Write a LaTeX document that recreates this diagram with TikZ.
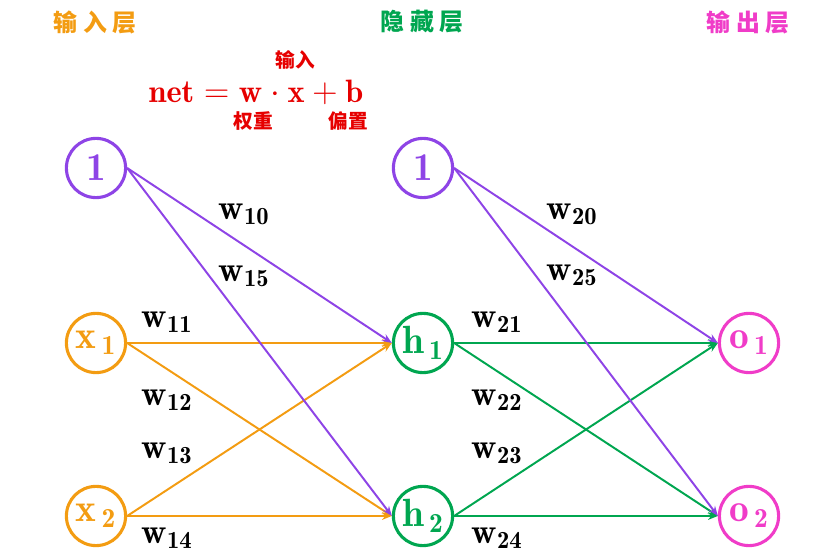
\documentclass[tikz,border=0pt]{standalone}
\usepackage{fontspec}
\newfontfamily\cjk{Noto Sans CJK SC}
\usetikzlibrary{arrows.meta}

\definecolor{inorange}{RGB}{243,156,18}
\definecolor{hidgreen}{RGB}{0,166,80}
\definecolor{biaspurple}{RGB}{142,68,230}
\definecolor{outpink}{RGB}{240,60,200}
\definecolor{formred}{RGB}{230,0,0}

\begin{document}
\begin{tikzpicture}[
    neuron/.style={circle, draw, line width=2.2pt, minimum size=1.48cm, inner sep=0pt,
                   font=\fontsize{28}{32}\selectfont},
    wlabel/.style={font=\fontsize{25}{30}\selectfont},
    layertitle/.style={font=\cjk\bfseries\fontsize{17}{20}\selectfont},
    formnote/.style={formred, font=\cjk\bfseries\fontsize{14}{17}\selectfont},
    link/.style={line width=1.4pt, -{Stealth[length=7pt,width=5.5pt]}}
  ]
   \useasboundingbox (0,0) rectangle (20.425,14);

%Layer titles
   \node[layertitle, inorange] at (2.375, 13.45)  (t1)  {输\hspace{0.25em}入\hspace{0.25em}层};
   \node[layertitle, hidgreen] at (10.55, 13.45)  (t2)  {隐\hspace{0.25em}藏\hspace{0.25em}层};
   \node[layertitle, outpink]  at (18.7, 13.45)   (t3)  {输\hspace{0.25em}出\hspace{0.25em}层};

%Formula
   \node[formred, font=\fontsize{23}{27}\selectfont] at (6.4, 11.7)  (net)
        {$\mathbf{net}=\mathbf{w}\cdot\mathbf{x}+\mathbf{b}$};
   \node[formnote] at (7.375, 12.5)   (fin)  {输入};
   \node[formnote] at (6.325, 10.975) (fw)   {权重};
   \node[formnote] at (8.7, 10.975)   (fb)   {偏置};

%Neurons
   \node[neuron, biaspurple] at (2.4, 9.8)     (b1)  {$\mathbf{1}$};
   \node[neuron, inorange]   at (2.4, 5.425)   (x1)  {$\mathbf{x}_{\,\mathbf{1}}$};
   \node[neuron, inorange]   at (2.4, 1.1)     (x2)  {$\mathbf{x}_{\,\mathbf{2}}$};

   \node[neuron, biaspurple] at (10.575, 9.8)   (b2)  {$\mathbf{1}$};
   \node[neuron, hidgreen]   at (10.575, 5.425) (h1)  {$\mathbf{h}_{\,\mathbf{1}}$};
   \node[neuron, hidgreen]   at (10.575, 1.1)   (h2)  {$\mathbf{h}_{\,\mathbf{2}}$};

   \node[neuron, outpink]    at (18.725, 5.425) (o1)  {$\mathbf{o}_{\,\mathbf{1}}$};
   \node[neuron, outpink]    at (18.725, 1.1)   (o2)  {$\mathbf{o}_{\,\mathbf{2}}$};

%Connections
   \draw [link, inorange]   (x1.east)to(h1.west);
   \draw [link, inorange]   (x1.east)to(h2.west);
   \draw [link, inorange]   (x2.east)to(h1.west);
   \draw [link, inorange]   (x2.east)to(h2.west);
   \draw [link, biaspurple] (b1.east)to(h1.west);
   \draw [link, biaspurple] (b1.east)to(h2.west);

   \draw [link, hidgreen]   (h1.east)to(o1.west);
   \draw [link, hidgreen]   (h1.east)to(o2.west);
   \draw [link, hidgreen]   (h2.east)to(o1.west);
   \draw [link, hidgreen]   (h2.east)to(o2.west);
   \draw [link, biaspurple] (b2.east)to(o1.west);
   \draw [link, biaspurple] (b2.east)to(o2.west);

%Weight labels
   \node[wlabel] at (6.1, 8.65)    (w10)  {$\mathbf{w_{10}}$};
   \node[wlabel] at (6.1, 7.1)     (w15)  {$\mathbf{w_{15}}$};
   \node[wlabel] at (4.175, 5.95)  (w11)  {$\mathbf{w_{11}}$};
   \node[wlabel] at (4.175, 4.0)   (w12)  {$\mathbf{w_{12}}$};
   \node[wlabel] at (4.175, 2.675) (w13)  {$\mathbf{w_{13}}$};
   \node[wlabel] at (4.175, 0.55)  (w14)  {$\mathbf{w_{14}}$};

   \node[wlabel] at (14.3, 8.65)    (w20)  {$\mathbf{w_{20}}$};
   \node[wlabel] at (14.3, 7.125)   (w25)  {$\mathbf{w_{25}}$};
   \node[wlabel] at (12.425, 5.95)  (w21)  {$\mathbf{w_{21}}$};
   \node[wlabel] at (12.425, 4.0)   (w22)  {$\mathbf{w_{22}}$};
   \node[wlabel] at (12.425, 2.675) (w23)  {$\mathbf{w_{23}}$};
   \node[wlabel] at (12.425, 0.55)  (w24)  {$\mathbf{w_{24}}$};

  \end{tikzpicture}
\end{document}
